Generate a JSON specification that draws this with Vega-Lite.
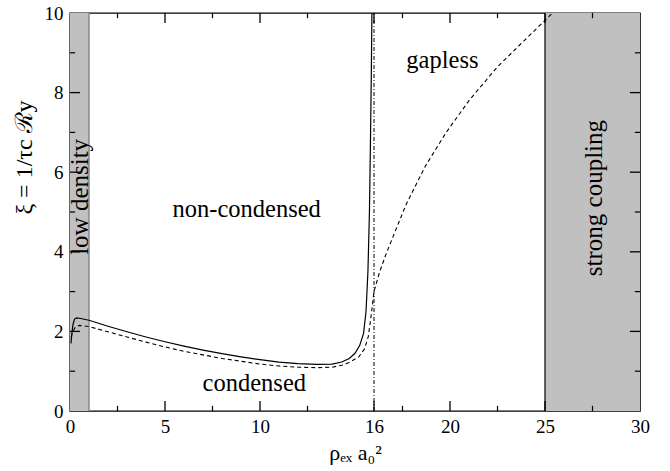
{
  "$schema": "https://vega.github.io/schema/vega-lite/v6.json",
  "width": 570,
  "height": 398,
  "autosize": {"type": "none"},
  "padding": {"left": 70, "top": 13, "right": 30, "bottom": 60},
  "background": "white",
  "config": {
    "view": {"stroke": "black", "strokeWidth": 1.4},
    "font": "Liberation Serif, DejaVu Serif, serif",
    "axis": {
      "grid": false,
      "domain": false,
      "ticks": false,
      "labelFont": "Liberation Serif, DejaVu Serif, serif",
      "labelFontSize": 19,
      "labelColor": "black",
      "titleFont": "Liberation Serif, DejaVu Serif, serif",
      "titleFontWeight": "normal",
      "titleColor": "black",
      "zindex": 2
    }
  },
  "datasets": {
    "bands": [{"x0": 0, "x1": 1}, {"x0": 25, "x1": 30}],
    "xmajor": [{"v": 5}, {"v": 10}, {"v": 16}, {"v": 20}, {"v": 25}],
    "xminor": [{"v": 2.5}, {"v": 7.5}, {"v": 12.5}, {"v": 17.5}, {"v": 22.5}, {"v": 27.5}],
    "ymajor": [{"v": 2}, {"v": 4}, {"v": 6}, {"v": 8}],
    "yminor": [{"v": 1}, {"v": 3}, {"v": 5}, {"v": 7}, {"v": 9}],
    "solid": [
      {"x": 0.05, "y": 1.7}, {"x": 0.1, "y": 1.95}, {"x": 0.16, "y": 2.18}, {"x": 0.24, "y": 2.31},
      {"x": 0.35, "y": 2.34}, {"x": 0.5, "y": 2.33}, {"x": 1, "y": 2.28}, {"x": 2, "y": 2.13},
      {"x": 3, "y": 1.99}, {"x": 4, "y": 1.86}, {"x": 5, "y": 1.74}, {"x": 6, "y": 1.63},
      {"x": 7, "y": 1.53}, {"x": 8, "y": 1.44}, {"x": 9, "y": 1.36}, {"x": 10, "y": 1.29},
      {"x": 11, "y": 1.23}, {"x": 12, "y": 1.19}, {"x": 13, "y": 1.17}, {"x": 13.8, "y": 1.18},
      {"x": 14.3, "y": 1.23}, {"x": 14.7, "y": 1.32}, {"x": 15.0, "y": 1.45}, {"x": 15.25, "y": 1.65},
      {"x": 15.45, "y": 1.95}, {"x": 15.58, "y": 2.5}, {"x": 15.68, "y": 3.5}, {"x": 15.76, "y": 5.0},
      {"x": 15.82, "y": 7.0}, {"x": 15.86, "y": 8.5}, {"x": 15.89, "y": 10}
    ],
    "dashed": [
      {"x": 0.05, "y": 1.85}, {"x": 0.15, "y": 2.0}, {"x": 0.3, "y": 2.12}, {"x": 0.5, "y": 2.15},
      {"x": 1, "y": 2.12}, {"x": 2, "y": 1.99}, {"x": 3, "y": 1.86}, {"x": 4, "y": 1.73},
      {"x": 5, "y": 1.61}, {"x": 6, "y": 1.5}, {"x": 7, "y": 1.41}, {"x": 8, "y": 1.32},
      {"x": 9, "y": 1.25}, {"x": 10, "y": 1.18}, {"x": 11, "y": 1.13}, {"x": 12, "y": 1.1},
      {"x": 13, "y": 1.09}, {"x": 13.8, "y": 1.1}, {"x": 14.3, "y": 1.15}, {"x": 14.7, "y": 1.22},
      {"x": 15.2, "y": 1.36}, {"x": 15.5, "y": 1.56}, {"x": 15.7, "y": 1.87}, {"x": 15.85, "y": 2.4},
      {"x": 16.0, "y": 3.0}, {"x": 16.3, "y": 3.5}, {"x": 16.6, "y": 3.9}, {"x": 17.1, "y": 4.5},
      {"x": 17.7, "y": 5.2}, {"x": 18.7, "y": 6.15}, {"x": 19.8, "y": 7.0}, {"x": 21.0, "y": 7.8},
      {"x": 22.5, "y": 8.65}, {"x": 24.0, "y": 9.35}, {"x": 25.4, "y": 10}
    ],
    "hlabels": [
      {"x": 9.3, "y": 5.05, "text": "non-condensed"},
      {"x": 9.7, "y": 0.68, "text": "condensed"},
      {"x": 19.6, "y": 8.8, "text": "gapless"}
    ],
    "vlabels": [
      {"x": 0.53, "y": 5.38, "text": "low density"},
      {"x": 27.6, "y": 5.35, "text": "strong coupling"}
    ]
  },
  "layer": [
    {
      "data": {"name": "bands"},
      "mark": {"type": "rect", "fill": "#c0c0c0"},
      "encoding": {
        "x": {"field": "x0", "type": "quantitative", "scale": {"domain": [0, 30], "nice": false, "zero": false},
              "axis": {"orient": "bottom", "values": [0, 5, 10, 16, 20, 25, 30], "labelPadding": 6,
                       "title": "ρₑₓ a₀²", "titleFontSize": 22, "titlePadding": 6, "labelFlush": false}},
        "x2": {"field": "x1"},
        "y": {"datum": 0, "type": "quantitative", "scale": {"domain": [0, 10], "nice": false},
              "axis": {"orient": "left", "values": [0, 2, 4, 6, 8, 10], "labelPadding": 7,
                       "title": "ξ = 1/τc ℛy", "titleFontSize": 24, "titleX": -46, "titleY": 144,
                       "titleAlign": "center", "titleBaseline": "middle", "titleAngle": -90, "labelFlush": false}},
        "y2": {"datum": 10}
      }
    },
    {
      "data": {"values": [{"x": 1}]},
      "mark": {"type": "rule", "color": "#888888", "strokeWidth": 1.5},
      "encoding": {
        "x": {"field": "x", "type": "quantitative"},
        "y": {"datum": 0, "type": "quantitative"},
        "y2": {"datum": 10}
      }
    },
    {
      "data": {"values": [{"x": 25}]},
      "mark": {"type": "rule", "color": "black", "strokeWidth": 1.2},
      "encoding": {
        "x": {"field": "x", "type": "quantitative"},
        "y": {"datum": 0, "type": "quantitative"},
        "y2": {"datum": 10}
      }
    },
    {
      "data": {"values": [{"x": 16}]},
      "mark": {"type": "rule", "color": "black", "strokeWidth": 1, "strokeDash": [4, 2, 1, 2]},
      "encoding": {
        "x": {"field": "x", "type": "quantitative"},
        "y": {"datum": 0, "type": "quantitative"},
        "y2": {"datum": 10}
      }
    },
    {
      "data": {"name": "solid"},
      "mark": {"type": "line", "color": "black", "strokeWidth": 1.2, "clip": true},
      "encoding": {
        "x": {"field": "x", "type": "quantitative"},
        "y": {"field": "y", "type": "quantitative"}
      }
    },
    {
      "data": {"name": "dashed"},
      "mark": {"type": "line", "color": "black", "strokeWidth": 1.1, "strokeDash": [4, 3], "clip": true},
      "encoding": {
        "x": {"field": "x", "type": "quantitative"},
        "y": {"field": "y", "type": "quantitative"}
      }
    },
    {
      "data": {"name": "xmajor"},
      "mark": {"type": "rule", "color": "black", "strokeWidth": 1.3},
      "encoding": {
        "x": {"field": "v", "type": "quantitative"},
        "y": {"datum": 0, "type": "quantitative"},
        "y2": {"datum": 0.25}
      }
    },
    {
      "data": {"name": "xmajor"},
      "mark": {"type": "rule", "color": "black", "strokeWidth": 1.3},
      "encoding": {
        "x": {"field": "v", "type": "quantitative"},
        "y": {"datum": 10, "type": "quantitative"},
        "y2": {"datum": 9.75}
      }
    },
    {
      "data": {"name": "xminor"},
      "mark": {"type": "rule", "color": "black", "strokeWidth": 1.2},
      "encoding": {
        "x": {"field": "v", "type": "quantitative"},
        "y": {"datum": 0, "type": "quantitative"},
        "y2": {"datum": 0.13}
      }
    },
    {
      "data": {"name": "xminor"},
      "mark": {"type": "rule", "color": "black", "strokeWidth": 1.2},
      "encoding": {
        "x": {"field": "v", "type": "quantitative"},
        "y": {"datum": 10, "type": "quantitative"},
        "y2": {"datum": 9.87}
      }
    },
    {
      "data": {"name": "ymajor"},
      "mark": {"type": "rule", "color": "black", "strokeWidth": 1.3},
      "encoding": {
        "y": {"field": "v", "type": "quantitative"},
        "x": {"datum": 0, "type": "quantitative"},
        "x2": {"datum": 0.53}
      }
    },
    {
      "data": {"name": "ymajor"},
      "mark": {"type": "rule", "color": "black", "strokeWidth": 1.3},
      "encoding": {
        "y": {"field": "v", "type": "quantitative"},
        "x": {"datum": 30, "type": "quantitative"},
        "x2": {"datum": 29.47}
      }
    },
    {
      "data": {"name": "yminor"},
      "mark": {"type": "rule", "color": "black", "strokeWidth": 1.2},
      "encoding": {
        "y": {"field": "v", "type": "quantitative"},
        "x": {"datum": 0, "type": "quantitative"},
        "x2": {"datum": 0.27}
      }
    },
    {
      "data": {"name": "yminor"},
      "mark": {"type": "rule", "color": "black", "strokeWidth": 1.2},
      "encoding": {
        "y": {"field": "v", "type": "quantitative"},
        "x": {"datum": 30, "type": "quantitative"},
        "x2": {"datum": 29.73}
      }
    },
    {
      "data": {"name": "hlabels"},
      "mark": {"type": "text", "fontSize": 24.5, "color": "black", "align": "center", "baseline": "middle"},
      "encoding": {
        "x": {"field": "x", "type": "quantitative"},
        "y": {"field": "y", "type": "quantitative"},
        "text": {"field": "text"}
      }
    },
    {
      "data": {"name": "vlabels"},
      "mark": {"type": "text", "fontSize": 25, "color": "black", "align": "center", "baseline": "middle", "angle": 270},
      "encoding": {
        "x": {"field": "x", "type": "quantitative"},
        "y": {"field": "y", "type": "quantitative"},
        "text": {"field": "text"}
      }
    }
  ]
}
